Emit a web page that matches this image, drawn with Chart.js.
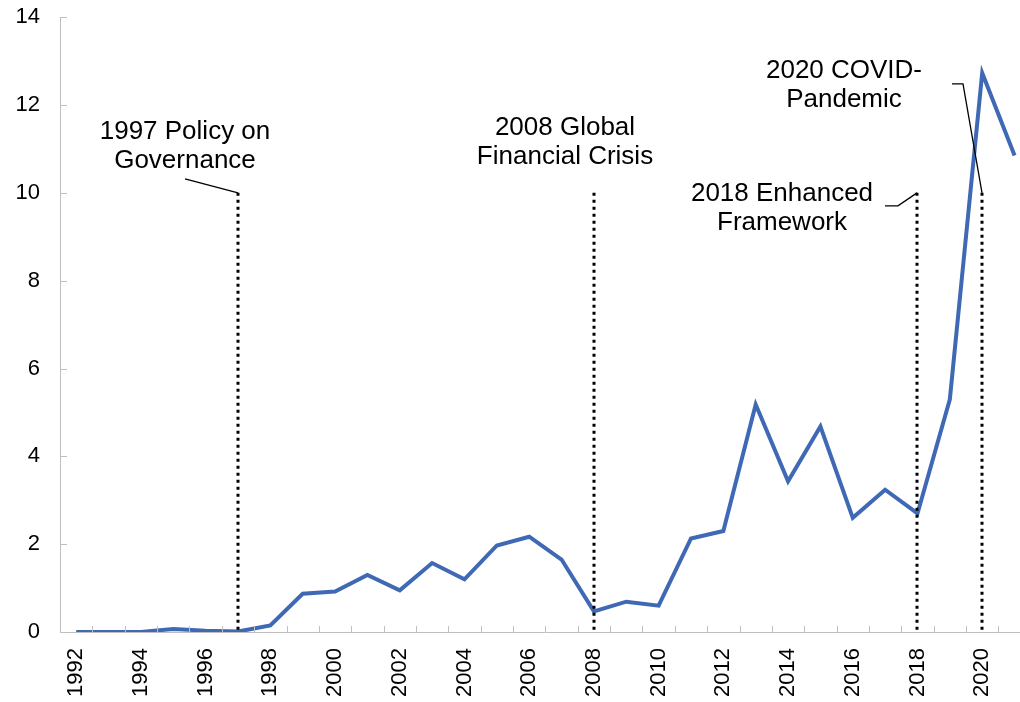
<!DOCTYPE html>
<html>
<head>
<meta charset="utf-8">
<script src="https://cdn.jsdelivr.net/npm/chart.js@4.4.0/dist/chart.umd.min.js"></script>
<style>
    html, body { margin: 0; padding: 0; background: #fff; overflow: hidden; }
    #wrap { width: 1057px; height: 718px; margin-top: -16px; }
    canvas { display: block; }
</style>
</head>
<body>
<div id="wrap"><canvas id="grafico" width="1057" height="718"></canvas></div>
<script>
// DADOS
const anos = ["1992","1993","1994","1995","1996","1997","1998","1999","2000","2001",
              "2002","2003","2004","2005","2006","2007","2008","2009","2010","2011",
              "2012","2013","2014","2015","2016","2017","2018","2019","2020","2021"];
const valores = [0, 0, 0, 0.07, 0.03, 0.01, 0.15, 0.87, 0.92, 1.30,
                 0.95, 1.57, 1.20, 1.97, 2.17, 1.65, 0.47, 0.69, 0.60, 2.13,
                 2.30, 5.18, 3.43, 4.68, 2.60, 3.24, 2.70, 5.30, 12.73, 10.85];
const yTicks = [0, 2, 4, 6, 8, 10, 12, 14];

// EVENTOS (linhas pontilhadas)
const eventoAnos = ["1997", "2008", "2018", "2020"];
const eventoTopo = 10;
const eventoTextos = [
    ["1997 Policy on", "Governance"],
    ["2008 Global", "Financial Crisis"],
    ["2018 Enhanced", "Framework"],
    ["2020 COVID-", "Pandemic"]
];

// posicao do texto / linha guia em pixels relativos ao topo da linha pontilhada
const estiloEventos = [
    { dx: -53, dy: -61, guia: [[-53, -14]] },
    { dx: -29, dy: -65, guia: null },
    { dx: -135, dy: 1, guia: [[-19, 13], [-32, 13]] },
    { dx: -138, dy: -122, guia: [[-19, -109], [-30, -109]] }
];

const FONTE = '"Liberation Sans", Arial, sans-serif';

const eventosPlugin = {
    id: "eventos",
    afterDatasetsDraw(chart) {
        const c = chart.ctx;
        const x = chart.scales.x, y = chart.scales.y;
        const area = chart.chartArea;
        c.save();

        // ticks internos eixo X (entre categorias)
        c.strokeStyle = "#bfbfbf";
        c.lineWidth = 1;
        const passo = (area.right - area.left) / anos.length;
        for (let k = 1; k <= anos.length; k++) {
            const px = Math.round(area.left + k * passo) + 0.5;
            c.beginPath();
            c.moveTo(px, area.bottom);
            c.lineTo(px, area.bottom - 6);
            c.stroke();
        }
        // ticks internos eixo Y
        yTicks.forEach(v => {
            const py = Math.round(y.getPixelForValue(v)) + 0.5;
            c.beginPath();
            c.moveTo(area.left, py);
            c.lineTo(area.left + 7, py);
            c.stroke();
        });

        // linhas pontilhadas + textos
        eventoAnos.forEach((ano, i) => {
            const px = Math.round(x.getPixelForValue(anos.indexOf(ano)));
            const topo = y.getPixelForValue(eventoTopo);
            c.strokeStyle = "#000";
            c.lineWidth = 3;
            c.setLineDash([3, 4]);
            c.beginPath();
            c.moveTo(px, topo);
            c.lineTo(px, area.bottom);
            c.stroke();
            c.setLineDash([]);

            const est = estiloEventos[i];
            if (est.guia) {
                c.lineWidth = 1.3;
                c.beginPath();
                c.moveTo(px, topo);
                est.guia.forEach(p => c.lineTo(px + p[0], topo + p[1]));
                c.stroke();
            }

            c.fillStyle = "#000";
            c.font = "26px " + FONTE;
            c.textAlign = "center";
            c.textBaseline = "middle";
            eventoTextos[i].forEach((linha, j) => {
                c.fillText(linha, px + est.dx, topo + est.dy + j * 29);
            });
        });
        c.restore();
    }
};

new Chart(document.getElementById("grafico"), {
    type: "line",
    data: {
        labels: anos,
        datasets: [{
            data: valores,
            borderColor: "#4069B5",
            borderWidth: 4,
            pointRadius: 0,
            tension: 0,
            fill: false
        }]
    },
    options: {
        responsive: false,
        animation: false,
        devicePixelRatio: 1,
        layout: { padding: { top: 1, right: 2, left: 0, bottom: 0 } },
        plugins: { legend: { display: false }, tooltip: { enabled: false } },
        scales: {
            x: {
                offset: true,
                grid: { display: false, drawTicks: false },
                border: { display: true, color: "#bfbfbf", width: 1 },
                ticks: {
                    autoSkip: false,
                    minRotation: 90,
                    maxRotation: 90,
                    padding: 16,
                    color: "#000",
                    font: { family: FONTE, size: 22 },
                    callback: function (v, i) { return i % 2 === 0 ? anos[i] : ""; }
                },
                afterFit: s => { s.height = 70; }
            },
            y: {
                min: 0,
                max: 14,
                grid: { display: false, drawTicks: false },
                border: { display: true, color: "#bfbfbf", width: 1 },
                ticks: {
                    stepSize: 2,
                    padding: 20,
                    color: "#000",
                    font: { family: FONTE, size: 22 }
                },
                afterFit: s => { s.width = 60; }
            }
        }
    },
    plugins: [eventosPlugin]
});
</script>
</body>
</html>
